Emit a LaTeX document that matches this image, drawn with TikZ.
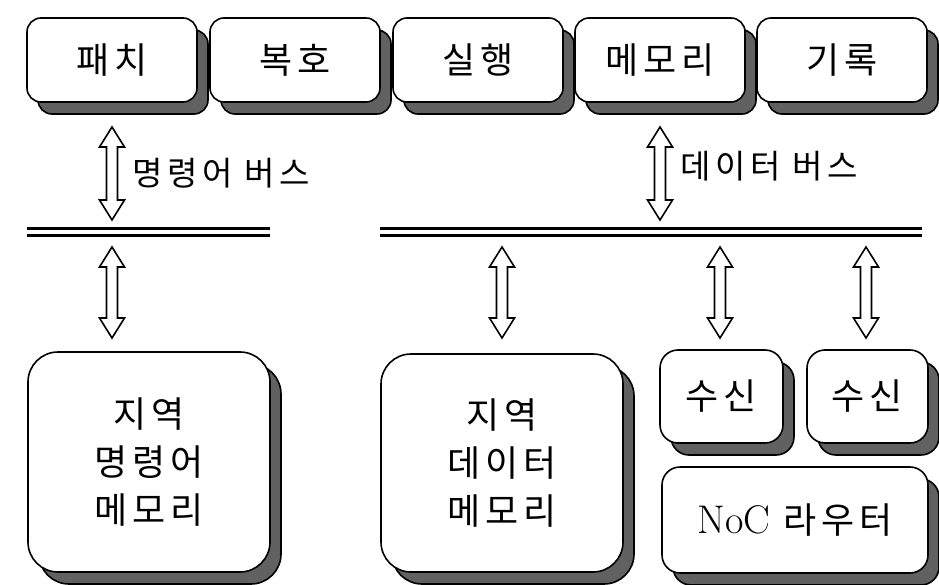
\documentclass[tikz,border=0pt]{standalone}
\usepackage{fontspec}
\newfontfamily\kr[LetterSpace=14]{Noto Sans CJK KR}
\usetikzlibrary{calc,shadows}
\begin{document}
\begin{tikzpicture}[x=1pt,y=-1pt,
  box/.style={draw=black, line width=1.6pt, fill=white, rectangle, rounded corners=14pt, inner sep=0pt,
    drop shadow={shadow xshift=11pt, shadow yshift=-12pt, opacity=1, fill=black!62, draw=black, line width=1.6pt},
    font=\kr\fontsize{36}{48}\selectfont, align=center},
  bigbox/.style={box, rounded corners=30pt},
  buslabel/.style={font=\kr\fontsize{33}{38}\selectfont, anchor=west, inner sep=0pt},
  bus/.style={line width=2.5pt, double=white, double distance=4.5pt},
  fatarrow/.style={draw=black, line width=1.6pt, fill=white,
    to path={let \p1=(\tikztostart), \p2=(\tikztotarget) in
      (\x1,\y1) -- (\x1+12.5pt,\y1-20pt) -- (\x1+5.5pt,\y1-20pt) -- (\x1+5.5pt,\y2+20pt)
      -- (\x1+12.5pt,\y2+20pt) -- (\x2,\y2) -- (\x1-12.5pt,\y2+20pt) -- (\x1-5.5pt,\y2+20pt)
      -- (\x1-5.5pt,\y1-20pt) -- (\x1-12.5pt,\y1-20pt) -- cycle}}
]
\useasboundingbox (0,0) rectangle (939,585);

% pipeline stages
\node[box, minimum width=170pt, minimum height=84pt] (fetch)  at (112,60) {패치};
\node[box, minimum width=170pt, minimum height=84pt] (decode) at (295,60) {복호};
\node[box, minimum width=170pt, minimum height=84pt] (exec)   at (478,60) {실행};
\node[box, minimum width=170pt, minimum height=84pt] (mem)    at (660,60) {메모리};
\node[box, minimum width=170pt, minimum height=84pt] (wb)     at (842,60) {기록};

% buses
\coordinate (ibL) at (27,232);
\coordinate (ibR) at (270,232);
\coordinate (dbL) at (380,232);
\coordinate (dbR) at (922,232);
\draw[bus] (ibL) -- (ibR);
\draw[bus] (dbL) -- (dbR);

% bus arrows
\coordinate (iaT) at (112,127);
\coordinate (iaB) at (112,220);
\coordinate (daT) at (660,127);
\coordinate (daB) at (660,220);
\draw[fatarrow] (iaT) to (iaB);
\draw[fatarrow] (daT) to (daB);
\node[buslabel] (ilabel) at (132,173) {명령어 버스};
\node[buslabel] (dlabel) at (680,166) {데이터 버스};

% lower blocks
\node[bigbox, minimum width=242pt, minimum height=220pt] (imem) at (149,462) {지역\\명령어\\메모리};
\node[bigbox, minimum width=242pt, minimum height=218pt] (dmem) at (502,463) {지역\\데이터\\메모리};
\node[box, rounded corners=18pt, minimum width=123pt, minimum height=93pt] (rx1) at (721.5,396.5) {수신};
\node[box, rounded corners=18pt, minimum width=121pt, minimum height=93pt] (rx2) at (867.5,396.5) {수신};
\node[box, rounded corners=18pt, minimum width=266pt, minimum height=106pt] (noc) at (795,520) {{\rmfamily\fontsize{40}{48}\selectfont NoC} 라우터};

% lower arrows
\coordinate (a1T) at (112,247);  \coordinate (a1B) at (112,338);
\coordinate (a2T) at (502,247);  \coordinate (a2B) at (502,338);
\coordinate (a3T) at (720,247);  \coordinate (a3B) at (720,338);
\coordinate (a4T) at (866,247);  \coordinate (a4B) at (866,338);
\draw[fatarrow] (a1T) to (a1B);
\draw[fatarrow] (a2T) to (a2B);
\draw[fatarrow] (a3T) to (a3B);
\draw[fatarrow] (a4T) to (a4B);
\end{tikzpicture}
\end{document}
